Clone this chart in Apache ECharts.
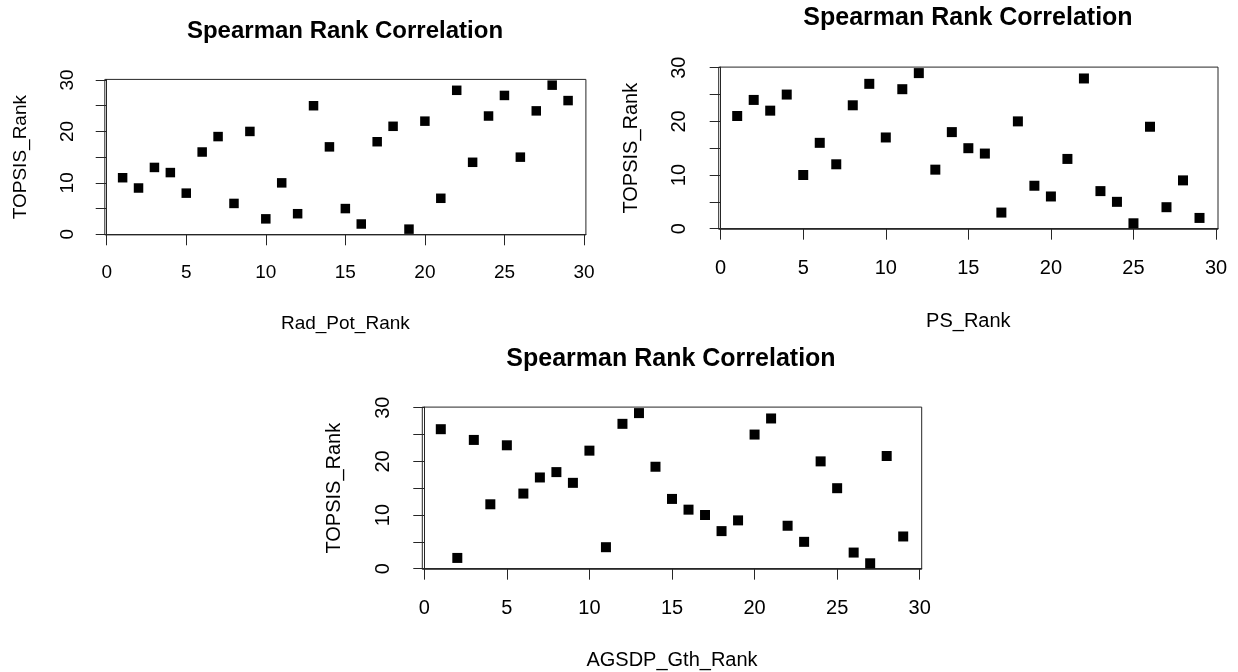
<!DOCTYPE html>
<html>
<head>
<meta charset="utf-8">
<script src="https://cdn.jsdelivr.net/npm/echarts@6/dist/echarts.min.js"></script>
<style>
html,body{margin:0;padding:0;background:#fff;}
#chart{width:1238px;height:672px;}
</style>
</head>
<body>
<div id="chart"></div>
<script>
// ---- data ----
var xRanks = [1,2,3,4,5,6,7,8,9,10,11,12,13,14,15,16,17,18,19,20,21,22,23,24,25,26,27,28,29];
var topsisVsRadPot = [11,9,13,12,8,16,19,6,20,3,10,4,25,17,5,2,18,21,1,22,7,28,14,23,27,15,24,29,26];
var topsisVsPS     = [21,24,22,25,10,16,12,23,27,17,26,29,11,18,15,14,3,20,8,6,13,28,7,5,1,19,4,9,2];
var topsisVsAGSDP  = [26,2,24,12,23,14,17,18,16,22,4,27,29,19,13,11,10,7,9,25,28,8,5,20,15,3,1,21,6];
var xTickValues = [0,5,10,15,20,25,30];
var yTickValues = [0,5,10,15,20,25,30];
var yLabelValues = [0,10,20,30];
var titleText = 'Spearman Rank Correlation';
var xNames = ['Rad_Pot_Rank','PS_Rank','AGSDP_Gth_Rank'];
var yName = 'TOPSIS_Rank';

var FONT = 'Liberation Sans, Arial, sans-serif';
var LINE = '#262626';

function pairs(ys){ return xRanks.map(function(x,i){ return [x, ys[i]]; }); }

var panels = [
  {grid:{left:104.8, top:79.4, width:481.1, height:155.5}, ys: topsisVsRadPot, titleX:340, titleTop:14.5, tfs:24, fs:19, lm:28, nameGapX:79, nameGapY:75, sym:9.5},
  {grid:{left:718.7, top:67.1, width:499.3, height:162.2}, ys: topsisVsPS, titleX:963, titleTop:1, tfs:25, fs:20, lm:29, nameGapX:82, nameGapY:77, sym:10},
  {grid:{left:422.3, top:407.1, width:499.4, height:162.2}, ys: topsisVsAGSDP, titleX:666, titleTop:341.5, tfs:25, fs:20, lm:29, nameGapX:81, nameGapY:78, sym:10}
];

var option = {
  backgroundColor:'#ffffff',
  animation:false,
  title:[], grid:[], xAxis:[], yAxis:[], series:[]
};

panels.forEach(function(p, i){
  option.title.push({
    text: titleText, left: p.titleX, top: p.titleTop, textAlign:'center',
    textStyle:{fontFamily:FONT, fontSize:p.tfs, fontWeight:'bold', color:'#000'}
  });
  option.grid.push({
    left:p.grid.left, top:p.grid.top, width:p.grid.width, height:p.grid.height,
    show:true, borderColor:LINE, borderWidth:1, containLabel:false
  });
  option.xAxis.push({
    type:'value', gridIndex:i, min:-0.12, max:30.12,
    name:xNames[i], nameLocation:'middle', nameGap:p.nameGapX,
    nameTextStyle:{fontFamily:FONT, fontSize:p.fs, color:'#000'},
    axisLine:{show:true, lineStyle:{color:LINE, width:1}},
    axisTick:{show:true, length:11, customValues:xTickValues, lineStyle:{color:LINE, width:1}},
    axisLabel:{customValues:xTickValues, margin:p.lm, fontFamily:FONT, fontSize:p.fs, color:'#000'},
    splitLine:{show:false}
  });
  option.yAxis.push({
    type:'value', gridIndex:i, min:-0.12, max:30.12,
    name:yName, nameLocation:'middle', nameGap:p.nameGapY,
    nameTextStyle:{fontFamily:FONT, fontSize:p.fs, color:'#000'},
    axisLine:{show:true, lineStyle:{color:LINE, width:1}},
    axisTick:{show:true, length:11, customValues:yTickValues, lineStyle:{color:LINE, width:1}},
    axisLabel:{customValues:yLabelValues, rotate:90, margin:p.lm, fontFamily:FONT, fontSize:p.fs, color:'#000'},
    splitLine:{show:false}
  });
  option.series.push({
    type:'scatter', xAxisIndex:i, yAxisIndex:i,
    symbol:'rect', symbolSize:p.sym,
    itemStyle:{color:'#000', opacity:1},
    emphasis:{disabled:true},
    data: pairs(p.ys)
  });
});

var chart = echarts.init(document.getElementById('chart'), null, {renderer:'canvas'});
chart.setOption(option);
</script>
</body>
</html>
